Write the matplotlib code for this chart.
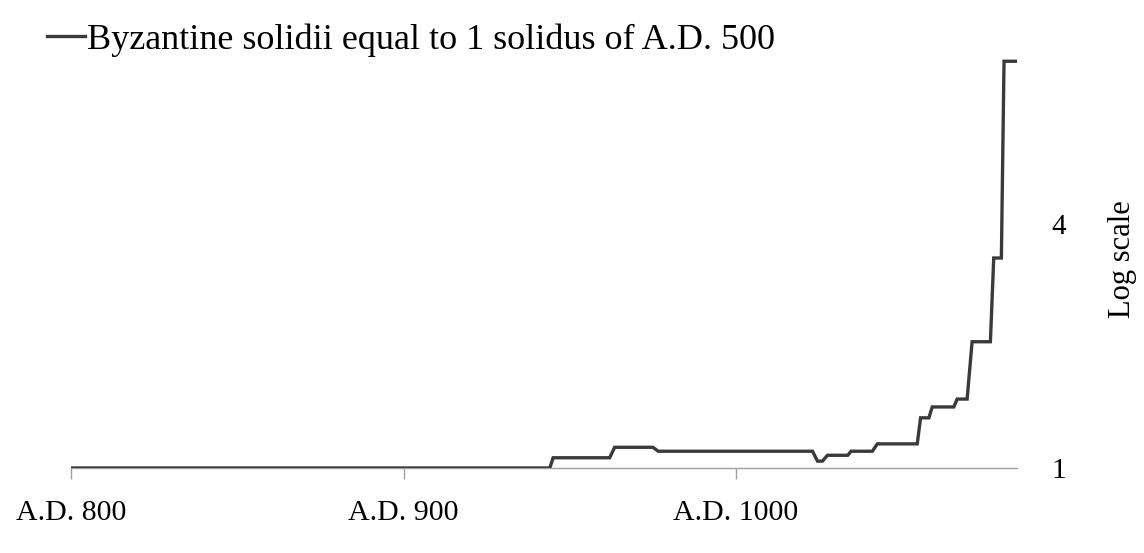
import numpy as np
import matplotlib.pyplot as plt
from matplotlib.ticker import FixedLocator, FixedFormatter, NullLocator

## DATA ##
years = [800, 944, 945, 962, 963.5, 975, 976.6, 1023, 1024.5, 1026, 1027.5,
         1033.6, 1034.6, 1041, 1042.5, 1054.5, 1055.5, 1058, 1059, 1065.5,
         1066.5, 1069.5, 1071, 1076.5, 1077.5, 1079.8, 1080.6, 1084]
solidii = [1, 1, 1.06, 1.06, 1.125, 1.125, 1.10, 1.10, 1.04, 1.04, 1.075,
           1.075, 1.10, 1.10, 1.147, 1.147, 1.33, 1.33, 1.415, 1.415,
           1.48, 1.48, 2.05, 2.05, 3.3, 3.3, 10.1, 10.1]
x_ticks = [800, 900, 1000]
x_labels = ['A.D. 800', 'A.D. 900', 'A.D. 1000']
y_ticks = [1, 4]
y_labels = ['1', '4']
series_name = 'Byzantine solidii equal to 1 solidus of A.D. 500'

plt.rcParams['font.family'] = ['Liberation Serif', 'DejaVu Serif']

W, H = 1144, 553
fig = plt.figure(figsize=(W / 100, H / 100), dpi=100)
x0, x1 = 71, 1017
ybase, ytop = 468, 50
ax = fig.add_axes([x0 / W, (H - ybase) / H, (x1 - x0) / W, (ybase - ytop) / H])

ax.plot(years, solidii, color='#3a3a3a', lw=2.4, solid_joinstyle='miter',
        label=series_name, zorder=3)

ax.set_yscale('log')
ax.set_xlim(800, 1084.5)
ax.set_ylim(1, 10 ** ((ybase - ytop) / 405.0))

for s in ['top', 'left', 'right']:
    ax.spines[s].set_visible(False)
ax.spines['bottom'].set_color('#a0a0a0')
ax.spines['bottom'].set_linewidth(1.0)

ax.set_xticks(x_ticks)
ax.set_xticklabels(x_labels, fontsize=21.5)
ax.tick_params(axis='x', length=8, width=1, color='#a0a0a0', pad=15)

ax.yaxis.tick_right()
ax.yaxis.set_major_locator(FixedLocator(y_ticks))
ax.yaxis.set_major_formatter(FixedFormatter(y_labels))
ax.yaxis.set_minor_locator(NullLocator())
ax.tick_params(axis='y', length=0, pad=25, labelsize=21)
ax.yaxis.set_label_position('right')
ax.set_ylabel('Log scale', fontsize=22, labelpad=30)

leg = fig.legend(loc='upper left', bbox_to_anchor=(33 / W, 1 - 9 / H),
                 frameon=False, fontsize=26, handlelength=1.05,
                 handletextpad=0.05, borderaxespad=0)

fig.savefig('out.png', dpi=100)
